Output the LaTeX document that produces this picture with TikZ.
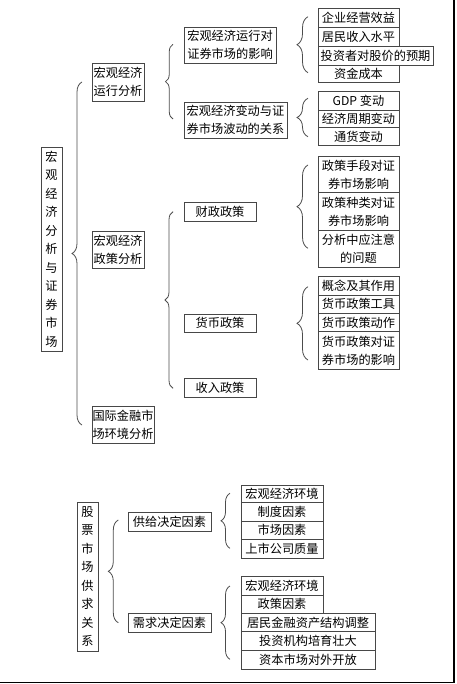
\documentclass[tikz,border=0pt]{standalone}
\usepackage{fontspec}
\setmainfont{Noto Sans CJK SC}
\usetikzlibrary{decorations.pathreplacing,shadows}
\newcommand\bxn[7]{\node[#2,minimum width={(#5-#3)*1pt},minimum height={(#6-#4)*1pt}] (#1) at ({(#3+#5)/2},{(#4+#6)/2}) {#7};}
\tikzset{
  box/.style={draw=black!72, line width=0.8pt, fill=white, inner sep=0pt, align=center,
    font=\fontsize{12.2}{18}\selectfont,
    drop shadow={shadow xshift=0.8pt, shadow yshift=-0.8pt, fill=black!40, opacity=1}},
  vbox/.style={box, font=\fontsize{12.2}{18.5}\selectfont},
  bracestyle/.style={draw=black!70, line width=0.8pt, decorate, decoration={brace, amplitude=#1}},
  bracestyle/.default=10pt,
  frameline/.style={draw=black, line width=1.2pt}
}
\begin{document}
\begin{tikzpicture}[x=1pt,y=-1pt]
\useasboundingbox (0,0) rectangle (456,684);
% frame
\coordinate (fr1) at (454,0);
\coordinate (fr2) at (454,682.5);
\coordinate (fr3) at (0,682.5);
\draw[frameline] (fr1) -- (fr2) -- (fr3);

% upper diagram
\bxn{m1}{vbox}{41}{147}{62}{351}{宏\\观\\经\\济\\分\\析\\与\\证\\券\\市\\场}
\bxn{L2a}{box}{92}{63.5}{144}{101}{宏观经济\\运行分析}
\bxn{L2b}{box}{92}{231}{144}{268}{宏观经济\\政策分析}
\bxn{L2c}{box}{92}{406}{154}{443}{国际金融市\\场环境分析}
\bxn{L3a}{box}{184}{27}{276}{63}{宏观经济运行对\\证券市场的影响}
\bxn{L3b}{box}{184}{102}{287}{138}{宏观经济变动与证\\券市场波动的关系}
\bxn{L3c}{box}{184}{202}{256}{221}{财政政策}
\bxn{L3d}{box}{184}{314}{256}{332.5}{货币政策}
\bxn{L3e}{box}{184}{378}{256}{397}{收入政策}
\bxn{A1}{box}{318}{8.3}{399}{27.7}{企业经营效益}
\bxn{A2}{box}{318}{27.7}{399}{46.7}{居民收入水平}
\bxn{A3}{box}{318}{46.7}{433}{65}{投资者对股价的预期}
\bxn{A4}{box}{318}{65}{399}{82}{资金成本}
\bxn{B1}{box}{318}{91.7}{399}{110}{GDP 变动}
\bxn{B2}{box}{318}{110}{399}{127.7}{经济周期变动}
\bxn{B3}{box}{318}{127.7}{399}{145}{通货变动}
\bxn{C1}{box}{318}{156.7}{399}{192.7}{政策手段对证\\券市场影响}
\bxn{C2}{box}{318}{192.7}{399}{230}{政策种类对证\\券市场影响}
\bxn{C3}{box}{318}{230}{399}{267.3}{分析中应注意\\的问题}
\bxn{D1}{box}{318}{276.7}{399}{295}{概念及其作用}
\bxn{D2}{box}{318}{295}{399}{313.3}{货币政策工具}
\bxn{D3}{box}{318}{313.3}{399}{331.7}{货币政策动作}
\bxn{D4}{box}{318}{331.7}{399}{369.3}{货币政策对证\\券市场的影响}

% lower diagram
\bxn{m2}{vbox}{77}{502}{98}{651}{股\\票\\市\\场\\供\\求\\关\\系}
\bxn{S}{box}{128}{512}{211}{531}{供给决定因素}
\bxn{Dm}{box}{128}{613}{211}{632}{需求决定因素}
\bxn{E1}{box}{241}{485}{323}{502.7}{宏观经济环境}
\bxn{E2}{box}{241}{502.7}{323}{521}{制度因素}
\bxn{E3}{box}{241}{521}{323}{539.3}{市场因素}
\bxn{E4}{box}{241}{539.3}{323}{558.3}{上市公司质量}
\bxn{F1}{box}{241}{576.7}{323}{595}{宏观经济环境}
\bxn{F2}{box}{241}{595}{323}{613.3}{政策因素}
\bxn{F3}{box}{241}{613.3}{375}{631.7}{居民金融资产结构调整}
\bxn{F4}{box}{241}{631.7}{375}{650}{投资机构培育壮大}
\bxn{F5}{box}{241}{650}{375}{669}{资本市场对外开放}

% brace end points
\coordinate (b0t) at (82,82);      \coordinate (b0b) at (82,425);
\coordinate (b1t) at (173,44.3);   \coordinate (b1b) at (173,119);
\coordinate (b2t) at (173,211.7);  \coordinate (b2b) at (173,388.3);
\coordinate (b3t) at (308,16.7);   \coordinate (b3b) at (308,72.7);
\coordinate (b4t) at (308,98.3);   \coordinate (b4b) at (308,136.7);
\coordinate (b5t) at (308,165);    \coordinate (b5b) at (308,248.3);
\coordinate (b6t) at (308,286.7);  \coordinate (b6b) at (308,360);
\coordinate (b7t) at (118.3,520);  \coordinate (b7b) at (118.3,622.7);
\coordinate (b8t) at (230,493.3);  \coordinate (b8b) at (230,548.3);
\coordinate (b9t) at (230,586);    \coordinate (b9b) at (230,659.3);

\draw[bracestyle=10pt] (b0b) -- (b0t);
\draw[bracestyle=7.5pt] (b1b) -- (b1t);
\draw[bracestyle=8pt] (b2b) -- (b2t);
\draw[bracestyle=11pt] (b3b) -- (b3t);
\draw[bracestyle=11pt] (b4b) -- (b4t);
\draw[bracestyle=11pt] (b5b) -- (b5t);
\draw[bracestyle=11pt] (b6b) -- (b6t);
\draw[bracestyle=10pt] (b7b) -- (b7t);
\draw[bracestyle=9pt] (b8b) -- (b8t);
\draw[bracestyle=9pt] (b9b) -- (b9t);
\end{tikzpicture}
\end{document}
